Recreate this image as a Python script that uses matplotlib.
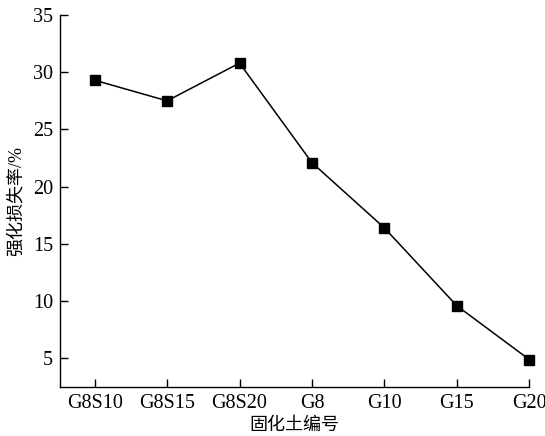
import matplotlib
matplotlib.use('Agg')
import matplotlib.pyplot as plt

# data
samples   = ['G8S10', 'G8S15', 'G8S20', 'G8', 'G10', 'G15', 'G20']
loss_rate = [29.3, 27.5, 30.8, 22.1, 16.4, 9.6, 4.9]
yticks    = [5, 10, 15, 20, 25, 30, 35]

plt.rcParams['font.family'] = ['Liberation Serif', 'Noto Sans CJK SC']
textsize = 14.5

fig = plt.figure(figsize=(5.45, 4.36), dpi=100)
ax = fig.add_axes([0.110, 0.1124, 0.861, 0.8532])

x = list(range(len(samples)))
ax.plot(x, loss_rate, color='black', linewidth=1.1, marker='s',
        markersize=7, markerfacecolor='black', clip_on=False, zorder=3)

ax.set_xlim(-0.48, 6.0)
ax.set_ylim(2.5, 35)
ax.set_xticks(x)
ax.set_xticklabels(samples)
ax.set_yticks(yticks)

ax.spines['top'].set_visible(False)
ax.spines['right'].set_visible(False)
for s in ('left', 'bottom'):
    ax.spines[s].set_linewidth(1.0)
# ticks point inward in the reference
ax.tick_params(axis='both', direction='in', length=6, width=1.0,
               labelsize=textsize, colors='black', pad=5)

ax.set_xlabel('固化土编号', fontsize=13)
ax.set_ylabel('强化损失率/%', fontsize=13)
ax.xaxis.set_label_coords(0.5, -0.08)
ax.yaxis.set_label_coords(-0.075, 0.5)
ax.xaxis.label.set_va('top')

fig.savefig('out.png', dpi=100)
